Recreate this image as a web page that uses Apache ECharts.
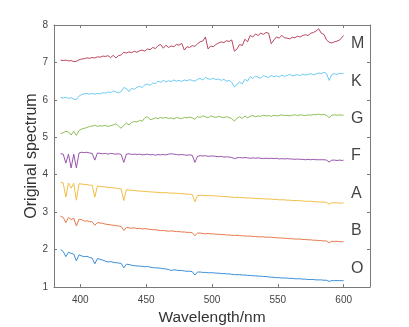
<!DOCTYPE html>
<html>
<head>
<meta charset="utf-8">
<script src="https://cdn.jsdelivr.net/npm/echarts@6/dist/echarts.min.js"></script>
<style>
html,body{margin:0;padding:0;background:#fff;}
#chart{width:409px;height:327px;}
</style>
</head>
<body>
<div id="chart"></div>
<script>
// Wavelength grid (nm)
const wavelengths = [
385,387,389,391,393,395,397,399,401,403,
405,407,409,411,413,415,417,419,421,423,
425,427,429,431,433,435,437,439,441,443,
445,447,449,451,453,455,457,459,461,463,
465,467,469,471,473,475,477,479,481,483,
485,487,489,491,493,495,497,499,501,503,
505,507,509,511,513,515,517,519,521,523,
525,527,529,531,533,535,537,539,541,543,
545,547,549,551,553,555,557,559,561,563,
565,567,569,571,573,575,577,579,581,583,
585,587,589,591,593,595,597,599,600];

const specO = [
2.00,1.95,1.81,1.93,1.90,1.88,1.70,1.86,1.83,1.81,
1.82,1.79,1.77,1.62,1.76,1.74,1.72,1.69,1.67,1.68,
1.66,1.65,1.64,1.63,1.51,1.61,1.60,1.58,1.57,1.56,
1.56,1.55,1.54,1.55,1.53,1.52,1.51,1.51,1.50,1.49,
1.48,1.47,1.44,1.46,1.45,1.44,1.44,1.43,1.42,1.42,
1.41,1.32,1.40,1.40,1.39,1.39,1.38,1.38,1.38,1.37,
1.37,1.36,1.36,1.35,1.35,1.34,1.33,1.33,1.33,1.32,
1.32,1.31,1.31,1.30,1.30,1.29,1.29,1.28,1.28,1.27,
1.26,1.26,1.25,1.25,1.24,1.24,1.24,1.23,1.23,1.22,
1.22,1.22,1.21,1.21,1.20,1.20,1.20,1.19,1.19,1.19,
1.18,1.18,1.15,1.17,1.17,1.17,1.17,1.17,1.17];

const specB = [
2.89,2.86,2.72,2.86,2.80,2.84,2.63,2.81,2.80,2.76,
2.77,2.75,2.74,2.65,2.72,2.71,2.70,2.68,2.67,2.66,
2.65,2.64,2.63,2.62,2.51,2.59,2.58,2.57,2.58,2.56,
2.57,2.55,2.56,2.55,2.54,2.53,2.53,2.52,2.51,2.51,
2.50,2.49,2.50,2.49,2.48,2.48,2.47,2.47,2.46,2.46,
2.45,2.37,2.44,2.44,2.43,2.42,2.43,2.42,2.42,2.41,
2.41,2.40,2.40,2.39,2.39,2.38,2.38,2.38,2.37,2.37,
2.36,2.36,2.36,2.35,2.35,2.34,2.34,2.34,2.33,2.33,
2.33,2.32,2.32,2.31,2.31,2.30,2.30,2.29,2.29,2.28,
2.28,2.28,2.27,2.27,2.26,2.26,2.25,2.25,2.24,2.24,
2.23,2.23,2.18,2.22,2.22,2.22,2.21,2.21,2.21];

const specA = [
3.80,3.78,3.40,3.78,3.64,3.77,3.32,3.76,3.75,3.74,
3.74,3.72,3.72,3.40,3.70,3.69,3.68,3.67,3.66,3.66,
3.65,3.64,3.63,3.62,3.31,3.60,3.59,3.58,3.58,3.57,
3.56,3.56,3.55,3.55,3.54,3.54,3.53,3.53,3.52,3.52,
3.52,3.51,3.51,3.51,3.50,3.50,3.49,3.49,3.48,3.48,
3.47,3.28,3.44,3.45,3.45,3.44,3.44,3.44,3.44,3.43,
3.43,3.42,3.42,3.41,3.41,3.40,3.39,3.40,3.39,3.39,
3.38,3.38,3.38,3.37,3.37,3.36,3.36,3.36,3.35,3.35,
3.35,3.34,3.34,3.33,3.33,3.33,3.32,3.32,3.31,3.31,
3.31,3.30,3.30,3.29,3.29,3.29,3.28,3.28,3.27,3.27,
3.27,3.26,3.21,3.25,3.25,3.25,3.24,3.24,3.24];

const specF = [
4.56,4.55,4.31,4.55,4.18,4.55,4.18,4.58,4.60,4.59,
4.60,4.58,4.57,4.39,4.58,4.57,4.56,4.57,4.55,4.57,
4.56,4.55,4.56,4.54,4.33,4.55,4.56,4.54,4.55,4.54,
4.55,4.53,4.54,4.55,4.53,4.54,4.52,4.54,4.53,4.54,
4.53,4.55,4.56,4.55,4.54,4.53,4.54,4.53,4.52,4.53,
4.52,4.33,4.49,4.51,4.50,4.51,4.49,4.50,4.50,4.49,
4.48,4.49,4.47,4.48,4.47,4.46,4.43,4.45,4.46,4.45,
4.46,4.45,4.44,4.45,4.44,4.45,4.44,4.43,4.44,4.43,
4.44,4.43,4.44,4.42,4.43,4.42,4.43,4.42,4.42,4.41,
4.42,4.41,4.41,4.40,4.41,4.40,4.41,4.40,4.40,4.40,
4.40,4.39,4.34,4.39,4.39,4.38,4.39,4.38,4.39];

const specG = [
5.10,5.12,5.16,5.14,5.06,5.16,5.05,5.18,5.22,5.24,
5.26,5.29,5.30,5.32,5.29,5.31,5.30,5.32,5.29,5.31,
5.33,5.36,5.30,5.24,5.32,5.38,5.33,5.40,5.42,5.41,
5.45,5.43,5.52,5.55,5.47,5.49,5.52,5.50,5.53,5.51,
5.53,5.50,5.52,5.49,5.53,5.51,5.50,5.53,5.52,5.54,
5.52,5.48,5.55,5.53,5.57,5.55,5.52,5.57,5.55,5.53,
5.56,5.54,5.52,5.55,5.53,5.50,5.43,5.51,5.55,5.50,
5.57,5.52,5.56,5.58,5.55,5.57,5.56,5.59,5.57,5.58,
5.56,5.59,5.57,5.58,5.60,5.58,5.59,5.57,5.59,5.60,
5.58,5.60,5.59,5.58,5.60,5.59,5.61,5.60,5.62,5.60,
5.61,5.59,5.52,5.59,5.60,5.59,5.60,5.59,5.59];

const specK = [
6.06,6.05,6.07,6.04,6.06,6.02,6.01,6.10,6.14,6.16,
6.17,6.15,6.17,6.15,6.17,6.16,6.19,6.18,6.21,6.19,
6.24,6.21,6.19,6.22,6.33,6.30,6.22,6.31,6.28,6.34,
6.36,6.33,6.40,6.42,6.39,6.45,6.43,6.50,6.47,6.52,
6.48,6.51,6.49,6.53,6.50,6.52,6.49,6.53,6.51,6.54,
6.52,6.50,6.55,6.57,6.53,6.60,6.56,6.55,6.58,6.54,
6.56,6.52,6.55,6.50,6.52,6.47,6.34,6.42,6.47,6.43,
6.55,6.50,6.62,6.57,6.64,6.60,6.58,6.65,6.62,6.60,
6.65,6.62,6.64,6.61,6.66,6.63,6.65,6.68,6.64,6.66,
6.67,6.65,6.69,6.66,6.68,6.70,6.67,6.69,6.72,6.70,
6.74,6.70,6.52,6.68,6.70,6.68,6.71,6.70,6.71];

const specM = [
7.06,7.05,7.06,7.04,7.05,7.02,7.03,7.07,7.09,7.10,
7.12,7.11,7.13,7.12,7.15,7.14,7.17,7.16,7.18,7.13,
7.19,7.12,7.18,7.20,7.27,7.25,7.28,7.26,7.30,7.27,
7.31,7.33,7.30,7.36,7.34,7.40,7.37,7.45,7.48,7.38,
7.46,7.40,7.44,7.42,7.48,7.46,7.51,7.33,7.42,7.40,
7.45,7.43,7.50,7.55,7.57,7.68,7.36,7.44,7.42,7.48,
7.52,7.55,7.53,7.58,7.56,7.60,7.30,7.36,7.48,7.45,
7.62,7.55,7.72,7.68,7.76,7.72,7.78,7.75,7.80,7.78,
7.50,7.60,7.68,7.65,7.72,7.66,7.65,7.63,7.67,7.66,
7.70,7.68,7.72,7.74,7.72,7.78,7.80,7.84,7.90,7.78,
7.75,7.60,7.54,7.52,7.55,7.57,7.60,7.68,7.72];

const classNames = ['O','B','A','F','G','K','M'];
const seriesValues = [specO, specB, specA, specF, specG, specK, specM];
const xTicks = [400,450,500,550,600];
const yTicks = [1,2,3,4,5,6,7,8];

const colors = ['#3a8ed8','#e8784a','#f2be45','#9a55ab','#8fbf55','#6ccbf3','#bb4660'];
const FONT = 'Liberation Sans';
const boxColor = '#7a7a7a';
const tickLabelColor = '#444';

const lineSeries = seriesValues.map((vals, i) => ({
  type: 'line',
  name: classNames[i],
  data: wavelengths.map((w, j) => [w, vals[j]]),
  showSymbol: false,
  symbol: 'none',
  lineStyle: { width: 1, color: colors[i] },
  itemStyle: { color: colors[i] },
  animation: false,
  z: 3
}));

const labelSeries = {
  type: 'scatter',
  symbolSize: 0,
  animation: false,
  silent: true,
  data: classNames.map((n, i) => ({ value: [605.5, i + 1.5], name: n })),
  label: {
    show: true,
    position: 'right',
    distance: 0,
    formatter: p => p.name,
    color: '#111',
    fontFamily: FONT,
    fontSize: 16
  },
  z: 4
};

const chart = echarts.init(document.getElementById('chart'), null, { renderer: 'canvas' });
const axisCommon = {
  axisLine: { show: true, lineStyle: { color: boxColor, width: 1 } },
  axisTick: { show: true, inside: true, length: 3, lineStyle: { color: boxColor } },
  splitLine: { show: false }
};
chart.setOption({
  backgroundColor: '#fff',
  animation: false,
  grid: { left: 54, right: 39, top: 25, bottom: 40, containLabel: false, outerBoundsMode: 'none' },
  xAxis: [
    Object.assign({}, axisCommon, {
      type: 'value', min: 380, max: 620, position: 'bottom',
      axisLabel: {
        color: tickLabelColor, fontFamily: FONT, fontSize: 10, margin: 8,
        formatter: v => (xTicks.indexOf(v) >= 0 ? String(v) : '')
      },
      name: 'Wavelength/nm', nameLocation: 'middle', nameGap: 23, nameMoveOverlap: false,
      nameTextStyle: { color: '#333', fontFamily: FONT, fontSize: 15.5 }
    }),
    Object.assign({}, axisCommon, {
      type: 'value', min: 380, max: 620, position: 'top',
      axisLabel: { show: false }
    })
  ],
  yAxis: [
    Object.assign({}, axisCommon, {
      type: 'value', min: 1, max: 8, interval: 1, position: 'left',
      axisLabel: {
        color: tickLabelColor, fontFamily: FONT, fontSize: 10, margin: 6,
        formatter: v => (yTicks.indexOf(v) >= 0 ? String(v) : '')
      },
      name: 'Original spectrum', nameLocation: 'middle', nameGap: 14, nameRotate: 90, nameMoveOverlap: false,
      nameTextStyle: { color: '#333', fontFamily: FONT, fontSize: 16 }
    }),
    Object.assign({}, axisCommon, {
      type: 'value', min: 1, max: 8, interval: 1, position: 'right',
      axisLabel: { show: false }
    })
  ],
  series: lineSeries.concat([labelSeries])
});
</script>
</body>
</html>
